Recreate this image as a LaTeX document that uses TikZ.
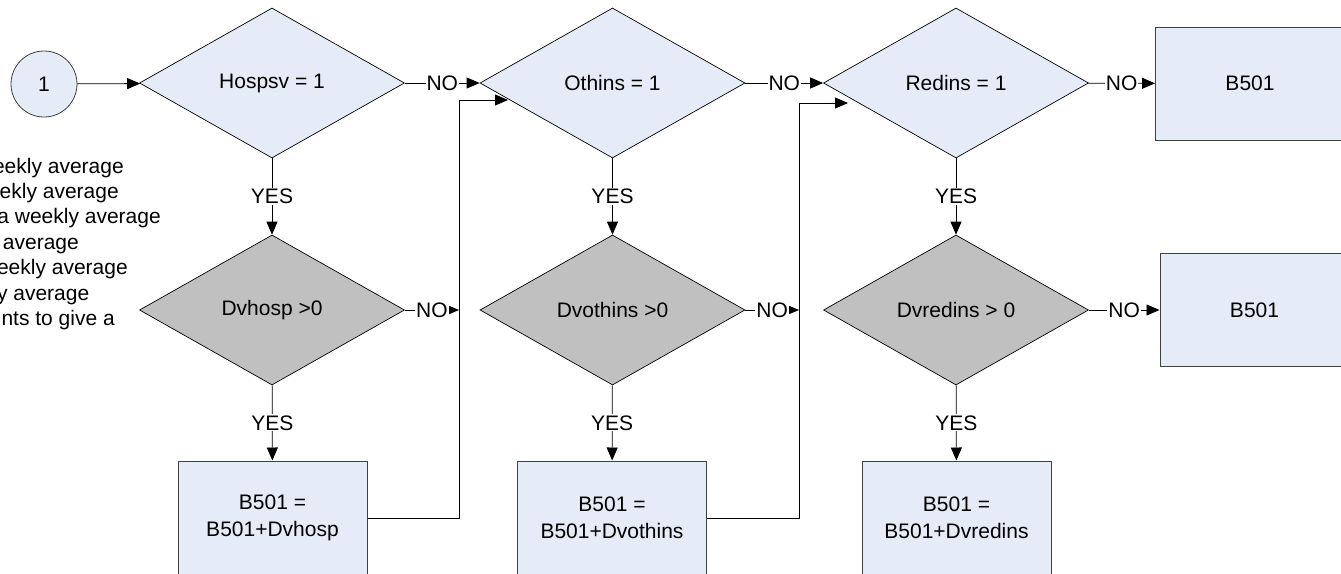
\documentclass[tikz,border=0pt]{standalone}
\usepackage{fontspec}
\setmainfont{Liberation Sans}
\usetikzlibrary{shapes.geometric,arrows.meta,calc}
\definecolor{lblue}{HTML}{E6ECF7}
\definecolor{dgray}{HTML}{C0C0C0}
\definecolor{edgec}{HTML}{404040}
\begin{document}
\begin{tikzpicture}[x=1pt,y=-1pt,
  every node/.style={font=\fontsize{21}{27}\selectfont},
  dec/.style={shape=diamond, draw=black, line width=0.7pt, fill=lblue, minimum width=265pt, minimum height=150pt, inner sep=0pt},
  decg/.style={dec, fill=dgray},
  proc/.style={draw=edgec, line width=1pt, fill=lblue, minimum width=189pt, minimum height=113pt, align=center, inner sep=0pt},
  conn/.style={draw=black, line width=0.8pt},
  arr/.style={conn, -{Triangle[length=13pt,width=11pt]}},
  sarr/.style={conn, -{Triangle[length=11pt,width=9pt]}},
  lbl/.style={fill=white, inner sep=1pt},
  side/.style={anchor=base east, inner sep=0pt}
]
\useasboundingbox (0,0) rectangle (1341,573);

% left partial text
\node[side] (s1) at (124,173) {eekly average};
\node[side] (s2) at (119,198.4) {ekly average};
\node[side] (s3) at (161,223.8) {a weekly average};
\node[side] (s4) at (79,249.2) {average};
\node[side] (s5) at (128,274.6) {eekly average};
\node[side] (s6) at (89.5,300) {y average};
\node[side] (s7) at (115,325.4) {nts to give a};

% nodes
\node[circle, draw=edgec, line width=0.8pt, fill=lblue, minimum size=66pt, inner sep=0pt] (c1) at (44,84) {1};
\node[dec] (d1) at (272,83) {Hospsv = 1};
\node[dec] (d2) at (612.5,83) {Othins = 1};
\node[dec] (d3) at (956,83) {Redins = 1};
\node[decg] (e1) at (272,310) {Dvhosp >0};
\node[decg] (e2) at (612.5,310) {Dvothins >0};
\node[decg] (e3) at (956,310) {Dvredins > 0};
\node[proc, minimum height=114pt] (b1) at (272.5,518) {B501 =\\B501+Dvhosp};
\node[proc, minimum height=114pt] (b2) at (612,518) {B501 =\\B501+Dvothins};
\node[proc, minimum height=114pt] (b3) at (956.5,518) {B501 =\\B501+Dvredins};
\node[proc] (r1) at (1250,83.5) {B501};
\node[proc] (r2) at (1254.5,310) {B501};

% helper coordinates
\coordinate (v1) at (459,310);
\coordinate (v2) at (799,310);
\coordinate (k1) at (459,100);
\coordinate (k2) at (799,103);
\coordinate (t1) at (508,100);
\coordinate (t2) at (848,103);

% connectors
\draw[arr] (c1) -- (d1);
\draw[arr] (d1) -- node[lbl]{NO} (d2);
\draw[arr] (d2) -- node[lbl]{NO} (d3);
\draw[arr] (d3) -- node[lbl]{NO} (r1);
\draw[arr] (d1) -- node[lbl]{YES} (e1);
\draw[arr] (d2) -- node[lbl]{YES} (e2);
\draw[arr] (d3) -- node[lbl]{YES} (e3);
\draw[arr] (e1) -- node[lbl]{YES} (b1);
\draw[arr] (e2) -- node[lbl]{YES} (b2);
\draw[arr] (e3) -- node[lbl]{YES} (b3);
\draw[sarr] (e1) -- node[lbl]{NO} (v1);
\draw[sarr] (e2) -- node[lbl]{NO} (v2);
\draw[arr] (e3) -- node[lbl]{NO} (r2);
\draw[arr] (b1.east) -| (k1) -- (t1);
\draw[arr] (b2.east) -| (k2) -- (t2);
\end{tikzpicture}
\end{document}
